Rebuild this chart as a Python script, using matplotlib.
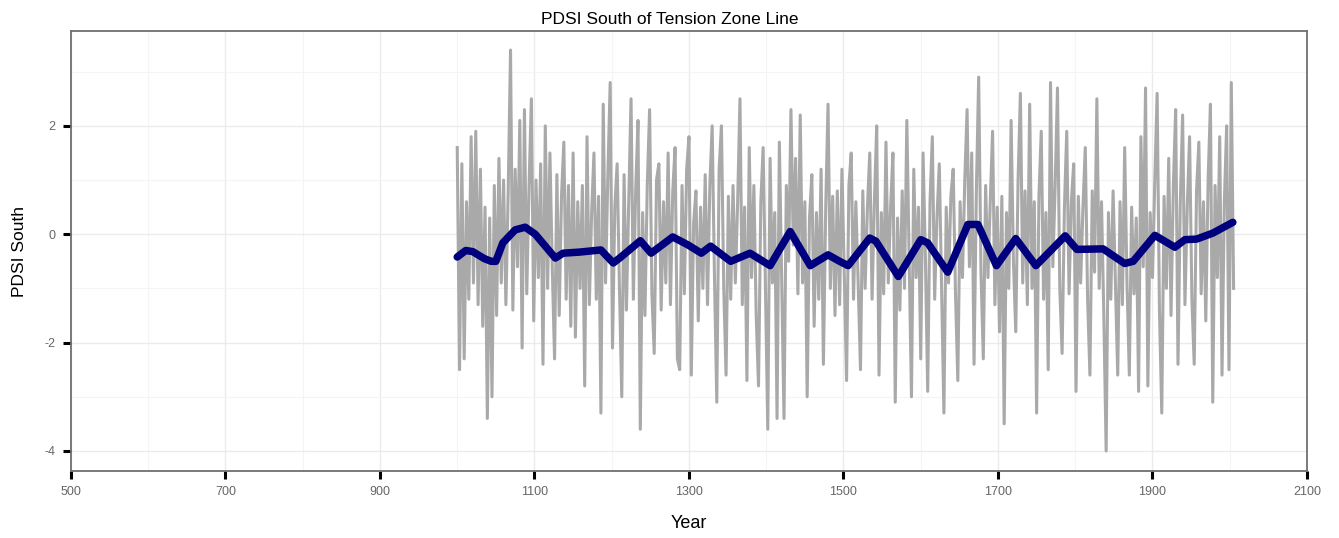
import numpy as np
import matplotlib
matplotlib.use('Agg')
import matplotlib.pyplot as plt
from matplotlib.ticker import FixedLocator

plt.rcParams['font.family'] = ['Liberation Sans', 'DejaVu Sans']
plt.rcParams['axes.unicode_minus'] = False

years = np.arange(1000, 2006, 3)
pdsi = [
    1.6, -2.5, 1.3, -2.3, 0.6, -1.2, 1.8, -0.9, 1.9, -1.3,
    1.2, -1.7, 0.5, -3.4, 0.3, -3.0, 0.9, -1.5, 1.4, -0.9,
    1.0, -1.3, 0.8, 3.4, -1.4, 1.2, -0.6, 2.1, -2.1, 2.3,
    -1.1, 0.9, 2.5, -1.6, 1.0, -0.8, 1.3, -2.4, 2.0, -1.0,
    1.5, -0.6, -2.3, 1.1, -1.5, 0.7, 1.7, -1.2, 0.9, -1.7,
    1.5, -1.9, 0.6, -1.0, 0.9, -2.8, 1.8, -1.3, 0.4, 1.5,
    -1.2, 0.7, -3.3, 2.4, -0.9, 1.1, 2.8, -2.1, 0.5, 1.3,
    -1.0, -3.0, 1.1, -1.4, 0.6, 2.5, -1.2, 0.8, 2.1, -3.6,
    0.4, -1.5, 0.9, 2.3, -1.1, -2.2, 1.0, 1.3, -1.4, 0.6,
    -0.9, 1.5, -1.3, 0.8, 1.6, -2.3, -2.5, 0.9, -1.1, 1.2,
    1.8, -2.6, 0.2, 0.8, -1.6, 0.5, -1.0, 1.1, -1.3, 0.9,
    2.0, -0.8, -3.1, 1.2, 2.0, -1.0, -2.6, 0.7, -1.2, 0.9,
    -0.9, 0.6, 2.5, -1.3, 0.5, -2.7, 1.6, -0.8, 0.9, -1.5,
    -2.8, 0.6, 1.6, -1.0, -3.6, 1.4, -0.9, 0.4, -3.4, 1.7,
    -0.8, -3.4, 0.9, -0.5, 2.3, -0.2, 1.4, -1.1, 2.2, -0.9,
    0.6, -3.0, 0.3, 1.1, -1.7, 0.4, -1.2, 1.2, -2.4, 0.5,
    2.4, -1.0, 0.7, -1.5, 0.8, -1.3, 1.2, -0.7, -2.7, 0.9,
    1.5, -1.2, 0.6, -0.9, -2.5, 0.8, -1.0, 0.5, 1.5, -1.2,
    0.6, 2.0, -2.6, 0.4, -1.1, 1.7, -0.9, 0.5, 1.5, -3.1,
    0.3, -1.4, 0.8, -1.0, 2.1, -0.5, -3.0, 1.2, -0.8, 0.5,
    -2.3, 1.5, -0.4, -2.9, 0.6, 1.8, -1.2, 0.3, 1.3, -1.0,
    -3.3, 0.5, -0.9, 0.7, 1.2, -1.1, -2.7, 0.6, -0.8, 1.0,
    2.3, -0.6, 1.5, -2.4, 0.8, 2.9, -0.7, -2.3, 0.9, -0.8,
    0.6, 1.9, -1.3, 0.5, -1.8, 0.7, -3.5, 0.4, -1.0, 2.1,
    -0.5, -1.8, 1.0, 2.6, -0.9, 0.8, -1.3, 2.4, -1.0, 0.6,
    -3.3, 0.7, 1.9, -1.2, 0.4, -2.5, 2.8, -0.6, 0.9, 2.7,
    -1.0, -2.2, 0.5, 1.9, -1.1, 0.6, 1.3, -2.9, 0.7, -0.9,
    0.5, 1.6, -1.2, -2.6, 0.8, -0.7, 2.5, -1.0, 0.6, -1.5,
    -4.0, 0.4, -1.2, 0.8, -0.9, -2.6, 0.6, -1.3, 1.6, -0.9,
    -2.6, 0.5, -1.1, 0.3, -2.9, 1.8, -0.6, 2.7, -2.8, 0.4,
    -0.8, 1.0, 2.6, -1.4, -3.3, 0.7, -1.0, 1.4, -1.5, 0.9,
    2.3, -2.4, 0.6, 2.2, -1.3, 0.5, 1.8, -1.2, -2.4, 0.8,
    1.7, -1.1, 0.6, -1.6, 1.0, 2.4, -3.1, 0.9, -0.8, 1.8,
    -2.6, 0.6, 2.0, -2.5, 2.8, -1.0,
]

# smoothed curve
smooth_years = [1000, 1011, 1020, 1035, 1044, 1050, 1059, 1075, 1088, 1101,
                1127, 1137, 1158, 1186, 1202, 1212, 1237, 1251, 1279, 1299,
                1316, 1328, 1354, 1379, 1405, 1431, 1457, 1480, 1495, 1506,
                1534, 1542, 1571, 1600, 1609, 1635, 1661, 1674, 1698, 1723,
                1749, 1787, 1802, 1836, 1864, 1875, 1903, 1929, 1942, 1957,
                1978, 2004]
smooth_pdsi = [-0.42, -0.3, -0.32, -0.45, -0.5, -0.5, -0.16, 0.08, 0.13, 0.0,
               -0.44, -0.35, -0.33, -0.29, -0.53, -0.42, -0.12, -0.35, -0.05, -0.2,
               -0.35, -0.22, -0.5, -0.35, -0.58, 0.05, -0.58, -0.38, -0.5, -0.58,
               -0.07, -0.13, -0.78, -0.1, -0.16, -0.7, 0.18, 0.18, -0.58, -0.08,
               -0.58, -0.03, -0.28, -0.27, -0.54, -0.5, -0.02, -0.24, -0.1, -0.09,
               0.02, 0.22]

x_ticks = [500, 700, 900, 1100, 1300, 1500, 1700, 1900, 2100]
y_ticks = [-4, -2, 0, 2]

assert len(years) == len(pdsi)

fig = plt.figure(figsize=(13.39, 5.38), dpi=100)
ax = fig.add_axes([0.053, 0.1245, 0.9231, 0.8178])

ax.plot(years, pdsi, color='#a9a9a9', lw=2.2, zorder=2)
ax.plot(smooth_years, smooth_pdsi, color='#00007f', lw=5.4, zorder=3,
        solid_joinstyle='round', solid_capstyle='round')

ax.set_xlim(500, 2100)
ax.set_ylim(-4.37, 3.75)
ax.set_xticks(x_ticks)
ax.set_yticks(y_ticks)
ax.xaxis.set_minor_locator(FixedLocator([600, 800, 1000, 1200, 1400, 1600, 1800, 2000]))
ax.yaxis.set_minor_locator(FixedLocator([-3, -1, 1, 3]))

ax.grid(which='major', color='#ebebeb', lw=1.0, zorder=0)
ax.grid(which='minor', color='#f4f4f4', lw=0.8, zorder=0)
ax.set_axisbelow(True)

ax.tick_params(which='major', direction='out', length=6, width=2.2,
               color='black', labelsize=9, labelcolor='#666666', pad=5)
ax.tick_params(which='minor', length=0)

for s in ax.spines.values():
    s.set_color('#707070')
    s.set_linewidth(1.3)

fig.suptitle('PDSI South of Tension Zone Line', fontsize=12.5, x=0.5, y=0.978, va='top')
ax.set_xlabel('Year', fontsize=13, labelpad=12)
ax.set_ylabel('PDSI South', fontsize=12.5, labelpad=13)

fig.savefig('out.png', dpi=100)
